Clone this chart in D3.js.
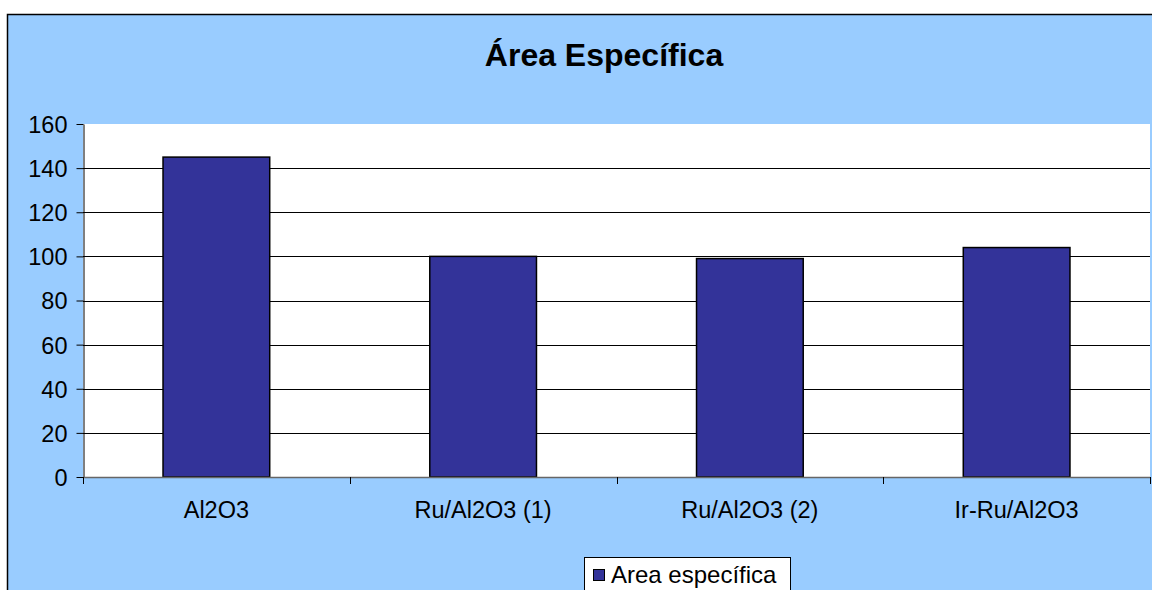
<!DOCTYPE html>
<html>
<head>
<meta charset="utf-8">
<script src="https://cdn.jsdelivr.net/npm/d3@7"></script>
<style>
  html, body { margin: 0; padding: 0; background: #fff; overflow: hidden; }
  text { font-family: "Liberation Sans", Arial, sans-serif; fill: #000; }
</style>
</head>
<body>
<div id="chart"></div>
<script>
'use strict';

var categories = ['Al2O3', 'Ru/Al2O3 (1)', 'Ru/Al2O3 (2)', 'Ir-Ru/Al2O3'];
var values = [145, 100, 99, 104];
var yTicks = [0, 20, 40, 60, 80, 100, 120, 140, 160];
var seriesName = 'Area específica';
var title = 'Área Específica';

var W = 1152, H = 590;
var plot = {left: 83, top: 124, right: 1150, bottom: 477};

var svg = d3.select('#chart').append('svg')
	.attr('width', W)
	.attr('height', H);

// chart area
svg.append('rect')
	.attr('x', 7.5).attr('y', 14.5)
	.attr('width', W + 20).attr('height', H + 20)
	.style('fill', '#99CCFF')
	.style('stroke', '#000')
	.style('stroke-width', 1.5);

// plot area
svg.append('rect')
	.attr('x', plot.left).attr('y', plot.top)
	.attr('width', plot.right - plot.left).attr('height', plot.bottom - plot.top)
	.style('fill', '#fff');

var x = d3.scaleBand()
	.domain(categories)
	.range([plot.left, plot.right])
	.paddingInner(0.6)
	.paddingOuter(0.3);

var y = d3.scaleLinear()
	.domain([0, 160])
	.range([plot.bottom, plot.top]);

// gridlines
svg.append('g')
	.selectAll('line')
	.data(yTicks.filter(function(d){ return d > 0 && d < 160; }))
	.enter().append('line')
		.attr('x1', plot.left).attr('x2', plot.right)
		.attr('y1', function(d){ return Math.round(y(d)) + 0.5; })
		.attr('y2', function(d){ return Math.round(y(d)) + 0.5; })
		.style('stroke', '#000')
		.style('stroke-width', 1);

// bars
svg.append('g')
	.selectAll('rect')
	.data(values)
	.enter().append('rect')
		.attr('x', function(d, i){ return x(categories[i]); })
		.attr('y', function(d){ return y(d); })
		.attr('width', x.bandwidth())
		.attr('height', function(d){ return plot.bottom - y(d); })
		.style('fill', '#333399')
		.style('stroke', '#000')
		.style('stroke-width', 1.5);

// y axis
var yAxis = svg.append('g')
	.attr('transform', 'translate(' + (plot.left + 0.5) + ',0)')
	.call(d3.axisLeft(y).tickValues(yTicks).tickSize(7).tickPadding(9).tickSizeOuter(0));
yAxis.select('.domain').style('stroke', '#000');
yAxis.selectAll('.tick line').style('stroke', '#000');
yAxis.selectAll('text')
	.style('font-size', '23.5px')
	.style('font-family', '"Liberation Sans", Arial, sans-serif')
	.attr('dy', '0.36em');

// x axis with ticks at category boundaries
var bounds = d3.range(categories.length + 1).map(function(i){
	return plot.left + i * (plot.right - plot.left) / categories.length;
});
var xAxis = svg.append('g');
xAxis.append('line')
	.attr('x1', plot.left).attr('x2', plot.right)
	.attr('y1', plot.bottom + 0.5).attr('y2', plot.bottom + 0.5)
	.style('stroke', '#666')
	.style('stroke-width', 1.5);
xAxis.selectAll('line.tick')
	.data(bounds)
	.enter().append('line')
		.attr('class', 'tick')
		.attr('x1', function(d){ return Math.round(d) + 0.5; })
		.attr('x2', function(d){ return Math.round(d) + 0.5; })
		.attr('y1', plot.bottom).attr('y2', plot.bottom + 7)
		.style('stroke', '#000');
xAxis.selectAll('text')
	.data(categories)
	.enter().append('text')
		.attr('x', function(d){ return x(d) + x.bandwidth() / 2; })
		.attr('y', 518)
		.style('text-anchor', 'middle')
		.style('font-size', '23.5px')
		.text(function(d){ return d; });

// title
svg.append('text')
	.attr('x', 604)
	.attr('y', 66)
	.style('text-anchor', 'middle')
	.style('font-size', '32px')
	.style('font-weight', 'bold')
	.text(title);

// legend
var legend = svg.append('g');
legend.append('rect')
	.attr('x', 584.5).attr('y', 557.5)
	.attr('width', 206).attr('height', 50)
	.style('fill', '#fff')
	.style('stroke', '#000');
legend.append('rect')
	.attr('x', 593.5).attr('y', 569.5)
	.attr('width', 11).attr('height', 11)
	.style('fill', '#333399')
	.style('stroke', '#000');
legend.append('text')
	.attr('x', 611)
	.attr('y', 583)
	.style('font-size', '24px')
	.text(seriesName);
</script>
</body>
</html>
